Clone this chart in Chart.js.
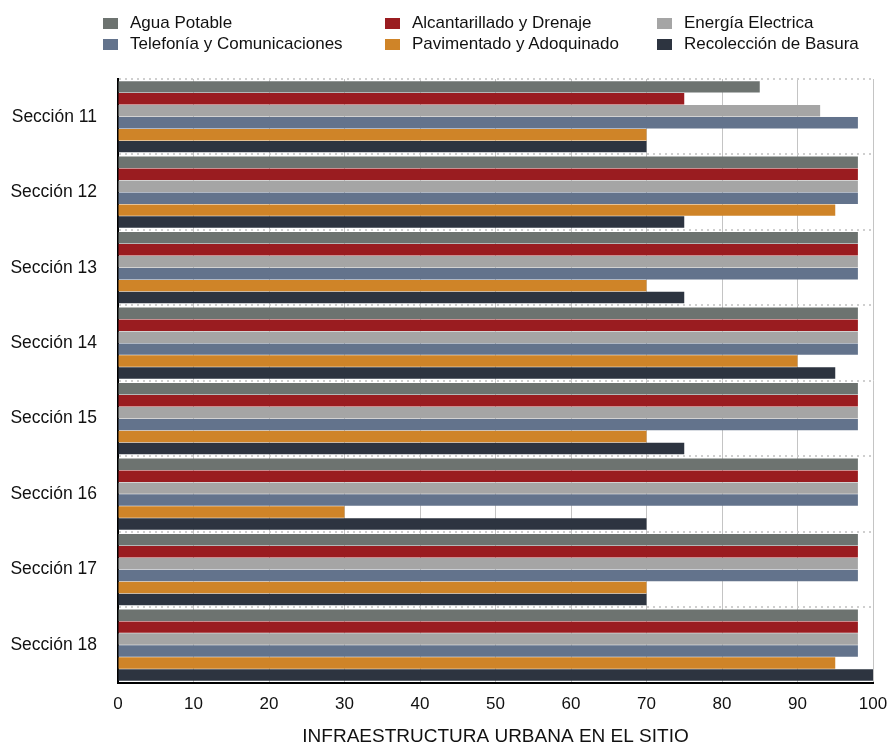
<!DOCTYPE html>
<html>
<head>
<meta charset="utf-8">
<script src="https://cdn.jsdelivr.net/npm/chart.js@4.4.1/dist/chart.umd.min.js"></script>
<style>
  body { margin: 0; background: #fff; font-family: "Liberation Sans", Arial, sans-serif; }
  #wrap { position: relative; width: 895px; height: 752px; }
  #legend { position: absolute; left: 0; top: 0; width: 895px; height: 60px; }
  .item { position: absolute; font-size: 17px; color: #111; line-height: 20px; white-space: nowrap; }
  .item span { position: absolute; left: -27px; top: 5px; width: 15px; height: 11px; }
  canvas { position: absolute; left: 0; top: 0; }
</style>
</head>
<body>
<div id="wrap">
  <canvas id="testChart" width="895" height="752"></canvas>
  <div id="legend"></div>
</div>
<script>
const labels = ["Sección 11", "Sección 12", "Sección 13", "Sección 14", "Sección 15", "Sección 16", "Sección 17", "Sección 18"];

const agua = [85, 98, 98, 98, 98, 98, 98, 98];
const alcantarillado = [75, 98, 98, 98, 98, 98, 98, 98];
const energia = [93, 98, 98, 98, 98, 98, 98, 98];
const telefonia = [98, 98, 98, 98, 98, 98, 98, 98];
const pavimentado = [70, 95, 70, 90, 70, 30, 70, 95];
const recoleccion = [70, 75, 75, 95, 75, 70, 70, 100];

const xTicks = [0, 10, 20, 30, 40, 50, 60, 70, 80, 90, 100];

const series = [
  { label: "Agua Potable", color: "#6d7370", data: agua },
  { label: "Alcantarillado y Drenaje", color: "#9a1c20", data: alcantarillado },
  { label: "Energía Electrica", color: "#a5a5a5", data: energia },
  { label: "Telefonía y Comunicaciones", color: "#63738c", data: telefonia },
  { label: "Pavimentado y Adoquinado", color: "#cf8428", data: pavimentado },
  { label: "Recolección de Basura", color: "#2d3440", data: recoleccion },
];

// legend laid out in 3 columns like the original
const colX = [130, 412, 684];
const rowY = [13, 34];
const legend = document.getElementById("legend");
series.forEach((s, i) => {
  const item = document.createElement("div");
  item.className = "item";
  item.style.left = colX[i % 3] + "px";
  item.style.top = rowY[Math.floor(i / 3)] + "px";
  item.innerHTML = '<span style="background:' + s.color + '"></span>' + s.label;
  legend.appendChild(item);
});

const data = {
  labels: labels,
  datasets: series.map((s) => ({
    label: s.label,
    data: s.data,
    backgroundColor: s.color,
    borderWidth: 0,
    categoryPercentage: 0.95,
    barPercentage: 0.96,
  })),
};

const font = { family: "'Liberation Sans', Arial, sans-serif", size: 17 };

const config = {
  type: "bar",
  data: data,
  options: {
    indexAxis: "y",
    responsive: false,
    animation: false,
    layout: { padding: { top: 79, right: 22, left: 0, bottom: 0 } },
    plugins: {
      legend: { display: false },
      tooltip: { enabled: false },
    },
    scales: {
      x: {
        min: 0,
        max: 100,
        afterBuildTicks: (scale) => {
          scale.ticks = xTicks.map((v) => ({ value: v }));
        },
        afterFit: (scale) => {
          scale.paddingRight = 0;
          scale.paddingLeft = 0;
        },
        ticks: { font: font, color: "#111", padding: 11 },
        grid: { color: "#c4c4c4", lineWidth: 1, drawTicks: false },
        border: { color: "#000", width: 2 },
        title: {
          display: true,
          text: "INFRAESTRUCTURA URBANA EN EL SITIO",
          font: { family: font.family, size: 19 },
          color: "#111",
          padding: { top: 0, bottom: 4 },
        },
      },
      y: {
        afterFit: (scale) => {
          scale.width = 118;
        },
        ticks: { font: { family: font.family, size: 17.5 }, color: "#111", padding: 21 },
        grid: { offset: true, color: "#cfcfcf", lineWidth: 2, drawTicks: false },
        border: { color: "#000", width: 2, dash: [2, 4] },
      },
    },
  },
};

const testChart = new Chart(document.getElementById("testChart"), config);
</script>
</body>
</html>
